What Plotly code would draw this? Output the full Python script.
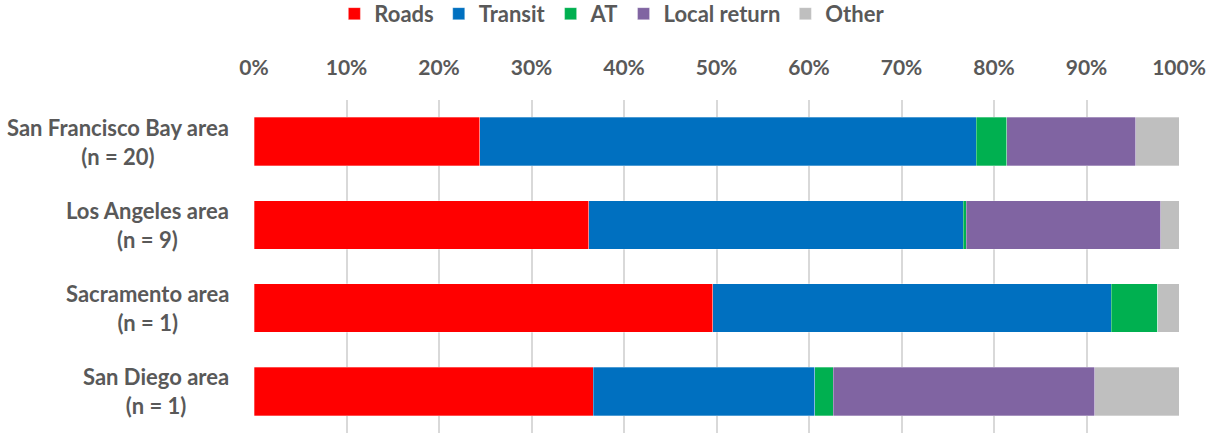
import plotly.graph_objects as go

categories = ["San Francisco Bay area<br>(n = 20)", "Los Angeles area<br>(n = 9)",
              "Sacramento area<br>(n = 1)", "San Diego area<br>(n = 1)"]
series_names = ["Roads", "Transit", "AT", "Local return", "Other"]
roads = [24.4, 36.2, 49.6, 36.7]
transit = [53.7, 40.5, 43.1, 23.9]
at = [3.3, 0.3, 5.0, 2.0]
local_return = [13.9, 21.0, 0.0, 28.3]
other = [4.7, 2.0, 2.3, 9.1]
tick_vals = [0, 10, 20, 30, 40, 50, 60, 70, 80, 90, 100]
tick_text = ["0%", "10%", "20%", "30%", "40%", "50%", "60%", "70%", "80%", "90%", "100%"]

colors = ["#FF0000", "#0070C0", "#00B050", "#8064A2", "#BFBFBF"]
values = [roads, transit, at, local_return, other]

FONT = "Lato"
GRAY = "#595959"

fig = go.Figure()
for name, vals, col in zip(series_names, values, colors):
    fig.add_trace(go.Bar(
        y=categories, x=vals, name=name, orientation="h",
        marker=dict(color=col, line=dict(color="rgba(255,255,255,0.5)", width=0.6)),
        hoverinfo="x+name",
    ))

for c in categories:
    fig.add_annotation(
        x=0, xref="paper", y=c, yref="y", text="<b>" + c + "</b>",
        showarrow=False, xanchor="right", align="center", xshift=-23,
        font=dict(family=FONT, size=22, color=GRAY),
    )

fig.update_layout(
    barmode="stack",
    bargap=0.42,
    width=1215, height=433,
    margin=dict(l=254, r=36, t=100, b=0),
    paper_bgcolor="white", plot_bgcolor="white",
    font=dict(family=FONT, size=21, color=GRAY),
    showlegend=True,
    legend=dict(
        orientation="h", traceorder="normal",
        xref="container", yref="container",
        x=0.504, xanchor="center", y=0.968, yanchor="middle",
        font=dict(family=FONT, size=22, color=GRAY, weight="bold"),
        itemwidth=30,
    ),
    xaxis=dict(
        side="top", range=[0, 100], tickvals=tick_vals, ticktext=tick_text,
        showgrid=True, gridcolor="#D9D9D9", gridwidth=1.5,
        zeroline=False, showline=False, ticks="",
        ticklabelstandoff=20,
        tickfont=dict(family=FONT, size=21, color=GRAY, weight="bold"),
        fixedrange=True,
    ),
    yaxis=dict(
        autorange="reversed", showticklabels=False, showgrid=False,
        zeroline=False, showline=False, ticks="",
    ),
)

fig.write_html("out.html", config={"displayModeBar": False},
               post_script="document.body.style.margin='0';document.body.style.overflow='hidden';")
